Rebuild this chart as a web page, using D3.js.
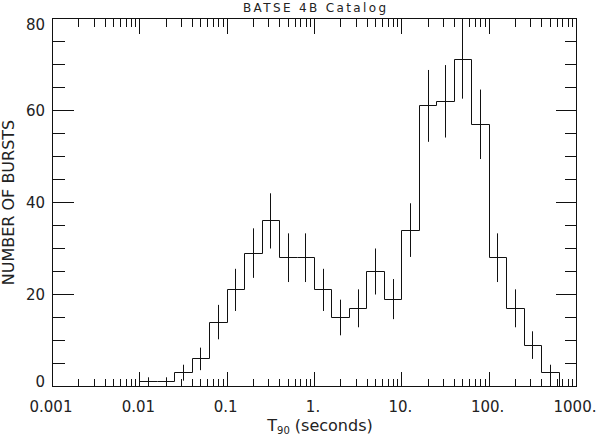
<!DOCTYPE html>
<html>
<head>
<meta charset="utf-8">
<script src="https://cdn.jsdelivr.net/npm/d3@7"></script>
<style>
  body { margin: 0; background: #fff; }
  svg { display: block; }
  text { font-family: "DejaVu Sans", sans-serif; fill: #222; }
</style>
</head>
<body>
<svg id="chart" width="599" height="436"></svg>
<script>
// bin edges in log10(T90), 0.2 dex wide
var logEdges = [-2.0, -1.8, -1.6, -1.4, -1.2, -1.0, -0.8, -0.6, -0.4, -0.2, 0.0, 0.2,
                0.4, 0.6, 0.8, 1.0, 1.2, 1.4, 1.6, 1.8, 2.0, 2.2, 2.4, 2.6, 2.8];
// number of bursts per bin
var counts = [1, 1, 3, 6, 14, 21, 29, 36, 28, 28, 21, 15,
              17, 25, 19, 34, 61, 62, 71, 57, 28, 17, 9, 3];

var xTickValues = [0.001, 0.01, 0.1, 1, 10, 100, 1000];
var xTickLabels = ["0.001", "0.01", "0.1", "1.", "10.", "100.", "1000."];
var yTickValues = [0, 20, 40, 60, 80];
var yMinorValues = [5, 10, 15, 25, 30, 35, 45, 50, 55, 65, 70, 75];

var svg = d3.select("#chart"),
    margin = {top: 18.5, right: 22.5, bottom: 49.5, left: 52.5},
    width = +svg.attr("width"),
    height = +svg.attr("height");

var x = d3.scaleLog()
    .domain([0.001, 1000])
    .range([margin.left, width - margin.right]);

var y = d3.scaleLinear()
    .domain([0, 80])
    .range([height - margin.bottom, margin.top]);

// snap to pixel centres so 1px lines stay thin
function px(v) { return Math.round(v - 0.5) + 0.5; }

// minor log ticks 2..9 in every decade
var xMinor = [];
[0.001, 0.01, 0.1, 1, 10, 100].forEach(function(d) {
  for (var k = 2; k <= 9; k++) xMinor.push(d * k);
});

function styleAxis(g) {
  g.select(".domain").remove();
  g.selectAll("line").attr("stroke", "#111");
  g.selectAll("text").remove();
}

// bottom axis
svg.append("g").attr("transform", "translate(0," + y(0) + ")")
    .call(d3.axisBottom(x).tickValues(xTickValues).tickSize(-15).offset(0)).call(styleAxis);
svg.append("g").attr("transform", "translate(0," + y(0) + ")")
    .call(d3.axisBottom(x).tickValues(xMinor).tickSize(-8).offset(0)).call(styleAxis);
// top axis
svg.append("g").attr("transform", "translate(0," + y(80) + ")")
    .call(d3.axisTop(x).tickValues(xTickValues).tickSize(-15).offset(0)).call(styleAxis);
svg.append("g").attr("transform", "translate(0," + y(80) + ")")
    .call(d3.axisTop(x).tickValues(xMinor).tickSize(-8).offset(0)).call(styleAxis);
// left axis
svg.append("g").attr("transform", "translate(" + x(0.001) + ",0)")
    .call(d3.axisLeft(y).tickValues(yTickValues).tickSize(-21).offset(0)).call(styleAxis);
svg.append("g").attr("transform", "translate(" + x(0.001) + ",0)")
    .call(d3.axisLeft(y).tickValues(yMinorValues).tickSize(-12).offset(0)).call(styleAxis);
// right axis
svg.append("g").attr("transform", "translate(" + x(1000) + ",0)")
    .call(d3.axisRight(y).tickValues(yTickValues).tickSize(-21).offset(0)).call(styleAxis);
svg.append("g").attr("transform", "translate(" + x(1000) + ",0)")
    .call(d3.axisRight(y).tickValues(yMinorValues).tickSize(-12).offset(0)).call(styleAxis);

// snap tick lines
svg.selectAll(".tick").attr("transform", function() {
  var t = d3.select(this).attr("transform");
  var m = /translate\(([^,]+),([^)]+)\)/.exec(t);
  return "translate(" + px(+m[1]) + "," + px(+m[2]) + ")";
});

// frame
svg.append("rect")
    .attr("x", x(0.001)).attr("y", y(80))
    .attr("width", x(1000) - x(0.001)).attr("height", y(0) - y(80))
    .attr("fill", "none").attr("stroke", "#111");

// tick labels
svg.append("g").selectAll("text")
    .data(yTickValues).enter().append("text")
    .attr("x", 45)
    .attr("y", function(d) {
      var c = y(d) + 5.5;
      return Math.min(Math.max(c, y(80) + 11.5), y(0));
    })
    .attr("text-anchor", "end")
    .attr("font-size", 15)
    .text(function(d) { return d; });

svg.append("g").selectAll("text")
    .data(xTickValues).enter().append("text")
    .attr("x", function(d) { return x(d) - 1.5; })
    .attr("y", 411.5)
    .attr("text-anchor", "middle")
    .attr("font-size", 15)
    .text(function(d, i) { return xTickLabels[i]; });

// histogram steps
var pts = [[px(x(Math.pow(10, logEdges[0]))), y(0)]];
counts.forEach(function(c, i) {
  pts.push([px(x(Math.pow(10, logEdges[i]))), px(y(c))]);
  pts.push([px(x(Math.pow(10, logEdges[i + 1]))), px(y(c))]);
});
pts.push([px(x(Math.pow(10, logEdges[logEdges.length - 1]))), y(0)]);

svg.append("path")
    .attr("d", d3.line()(pts))
    .attr("fill", "none")
    .attr("stroke", "#111")
    .attr("stroke-width", 1);

// poisson error bars at bin centres
function centre(i) { return px(x(Math.pow(10, (logEdges[i] + logEdges[i + 1]) / 2))); }
svg.append("g").selectAll("line")
    .data(counts).enter().append("line")
    .attr("x1", function(d, i) { return centre(i); })
    .attr("x2", function(d, i) { return centre(i); })
    .attr("y1", function(d) { return y(Math.max(0, d - Math.sqrt(d))); })
    .attr("y2", function(d) { return y(d + Math.sqrt(d)); })
    .attr("stroke", "#111")
    .attr("stroke-width", 1);

// titles
svg.append("text")
    .attr("x", 314.5).attr("y", 11.5)
    .attr("text-anchor", "middle")
    .attr("font-size", 12)
    .attr("textLength", 143).attr("lengthAdjust", "spacing")
    .text("BATSE 4B Catalog");

var xt = svg.append("text")
    .attr("x", 320).attr("y", 431)
    .attr("text-anchor", "middle")
    .attr("font-size", 16);
xt.append("tspan").text("T");
xt.append("tspan").attr("font-size", 10).attr("dy", 3).text("90");
xt.append("tspan").attr("dy", -3).text(" (seconds)");

svg.append("text")
    .attr("transform", "translate(14,202.5) rotate(-90)")
    .attr("text-anchor", "middle")
    .attr("font-size", 16)
    .text("NUMBER OF BURSTS");
</script>
</body>
</html>
